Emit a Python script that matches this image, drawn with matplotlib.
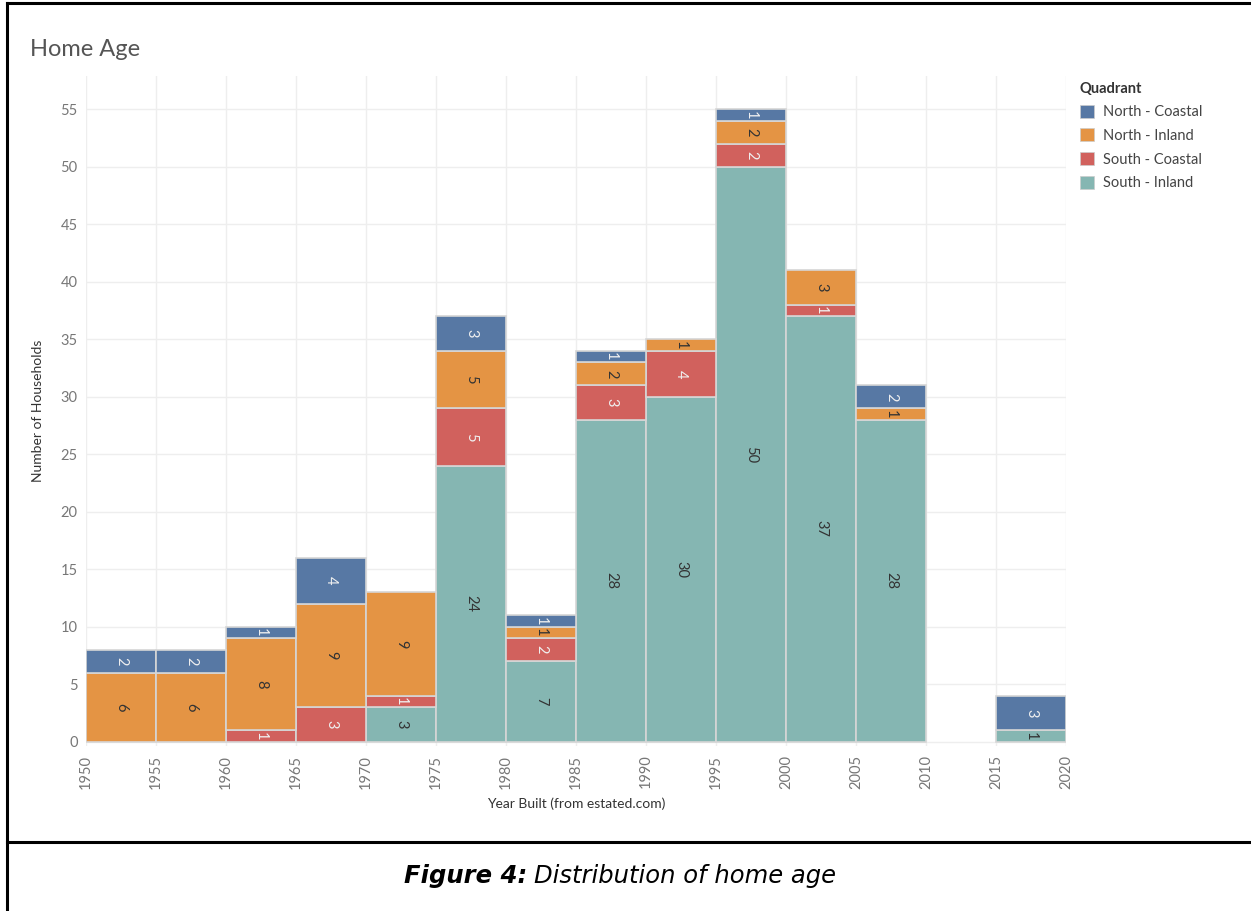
import numpy as np
import matplotlib.pyplot as plt
from matplotlib.lines import Line2D
from matplotlib.patches import Patch

plt.rcParams['font.family'] = ['Lato', 'DejaVu Sans']

# 5-year bins of construction year
bin_start = [1950, 1955, 1960, 1965, 1970, 1975, 1980, 1985, 1990, 1995, 2000, 2005, 2010, 2015]
south_inland = [0, 0, 0, 0, 3, 24, 7, 28, 30, 50, 37, 28, 0, 1]
south_coastal = [0, 0, 1, 3, 1, 5, 2, 3, 4, 2, 1, 0, 0, 0]
north_inland = [6, 6, 8, 9, 9, 5, 1, 2, 1, 2, 3, 1, 0, 0]
north_coastal = [2, 2, 1, 4, 0, 3, 1, 1, 0, 1, 0, 2, 0, 3]

quadrants = ["North - Coastal", "North - Inland", "South - Coastal", "South - Inland"]
colors = {"North - Coastal": "#5778a4", "North - Inland": "#e49444",
          "South - Coastal": "#d1615d", "South - Inland": "#85b6b2"}
label_colors = {"North - Coastal": "#f0f0f0", "North - Inland": "#333333",
                "South - Coastal": "#f0f0f0", "South - Inland": "#333333"}

W, H = 1251, 911
fig = plt.figure(figsize=(W / 100, H / 100), dpi=100)
ax = fig.add_axes([86 / W, 1 - 746.3 / H, 980 / W, (746.3 - 76) / H])

x = np.array(bin_start) + 2.5
bottom = np.zeros(len(bin_start))
stack = [("South - Inland", south_inland), ("South - Coastal", south_coastal),
         ("North - Inland", north_inland), ("North - Coastal", north_coastal)]
for name, vals in stack:
    vals = np.array(vals, dtype=float)
    keep = vals > 0  # empty segments are not drawn at all
    ax.bar(x[keep], vals[keep], width=5, bottom=bottom[keep], color=colors[name],
           edgecolor="#d6d6d6", linewidth=1.2, zorder=3)
    for xi, b, v in zip(x[keep], bottom[keep], vals[keep]):
        ax.text(xi, b + v / 2, f"{int(v)}", rotation=270, ha="center", va="center",
                fontsize=10.5, color=label_colors[name], zorder=4)
    bottom += vals

ax.set_xlim(1950, 2020)
ax.set_ylim(-0.4, 57.9)
ax.set_xticks(range(1950, 2021, 5))
ax.set_xticklabels([str(y) for y in range(1950, 2021, 5)], rotation=90)
ax.set_yticks(range(0, 56, 5))
ax.tick_params(length=0, labelsize=10.5, labelcolor="#777777", pad=6)
ax.grid(True, color="#eeeeee", linewidth=1, zorder=0)
for s in ax.spines.values():
    s.set_visible(False)

ax.set_xlabel("Year Built (from estated.com)", fontsize=10, color="#333333", labelpad=6)
ax.set_ylabel("Number of Households", fontsize=10, color="#333333", labelpad=12)

fig.text(30 / W, 1 - 50 / H, "Home Age", fontsize=17, color="#555555", va="center", ha="left")

handles = [Patch(facecolor=colors[q], edgecolor="#cccccc", linewidth=0.5) for q in quadrants]
leg = fig.legend(handles, quadrants, title="Quadrant", loc="upper left",
                 bbox_to_anchor=(1074 / W, 1 - 76 / H), frameon=False,
                 fontsize=10.5, title_fontproperties={"weight": "bold", "size": 10.5},
                 handlelength=1.0, handleheight=1.0, handletextpad=0.6,
                 labelspacing=0.62, borderaxespad=0)
leg._legend_box.align = "left"
for t in leg.get_texts():
    t.set_color("#444444")
leg.get_title().set_color("#333333")

# page border and caption box
lw = 2.2
fig.add_artist(Line2D([7 / W, 1], [1 - 3 / H, 1 - 3 / H], color="black", lw=lw))
fig.add_artist(Line2D([7 / W, 7 / W], [0, 1 - 3 / H], color="black", lw=lw))
fig.add_artist(Line2D([7 / W, 1], [1 - 842 / H, 1 - 842 / H], color="black", lw=lw))

cap_font = ["DejaVu Sans"]
fig.text(527 / W, 1 - 876 / H, "Figure 4:", fontsize=17.5, fontweight="bold", family=cap_font,
         fontstyle="italic", ha="right", va="center", color="black")
fig.text(534 / W, 1 - 876 / H, "Distribution of home age", fontsize=17.5, family=cap_font,
         fontstyle="italic", ha="left", va="center", color="black")

fig.savefig("out.png", dpi=100)
